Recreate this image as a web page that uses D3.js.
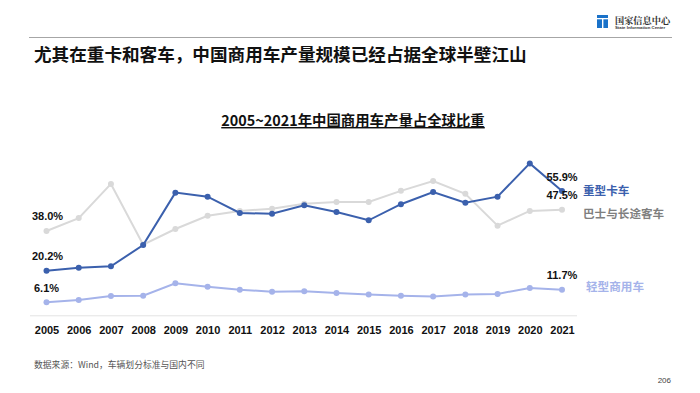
<!DOCTYPE html>
<html><head><meta charset="utf-8">
<script src="https://cdn.jsdelivr.net/npm/d3@7"></script>
<style>
html,body{margin:0;padding:0;background:#fff;}
svg{display:block;font-family:"Liberation Sans","Noto Sans CJK SC",sans-serif;}
</style></head>
<body><svg id="c" width="700" height="393"></svg>
<script>
const years = ["2005","2006","2007","2008","2009","2010","2011","2012","2013","2014","2015","2016","2017","2018","2019","2020","2021"];
const heavyTruck = [20.2,21.5,22.2,31.7,55.2,53.4,46.1,45.7,49.5,46.5,42.8,50.0,55.5,50.7,53.4,68.3,55.9];
const busCoach   = [38.0,43.8,59.1,31.9,38.9,44.8,47.0,48.0,50.2,51.0,51.0,56.0,60.4,54.7,40.4,47.0,47.5];
const lightCV    = [6.1,7.1,8.9,9.0,14.6,13.0,11.7,10.8,11.0,10.2,9.6,9.0,8.7,9.6,9.8,12.5,11.7];
const seriesNames = ["重型卡车","巴士与长途客车","轻型商用车"];
const mainTitle = "尤其在重卡和客车，中国商用车产量规模已经占据全球半壁江山";
const chartTitle = "2005~2021年中国商用车产量占全球比重";
const sourceNote = "数据来源：Wind，车辆划分标准与国内不同";

const svg = d3.select("#c");
const cjk = '"Noto Sans CJK SC","Liberation Sans",sans-serif';

// header
svg.append("line").attr("x1",29).attr("x2",672).attr("y1",37.5).attr("y2",37.5)
  .attr("stroke","#a6a6a6").attr("stroke-width",1.2);
svg.append("text").attr("x",34).attr("y",61).attr("font-family",cjk).attr("font-weight","bold")
  .attr("font-size",17.6).attr("fill","#111").text(mainTitle);
// logo
const lg = svg.append("g");
lg.append("rect").attr("x",597).attr("y",15).attr("width",11).attr("height",13).attr("fill","#1a72c9");
lg.append("rect").attr("x",597).attr("y",18).attr("width",11).attr("height",1.3).attr("fill","#fff");
lg.append("rect").attr("x",602).attr("y",18).attr("width",1.4).attr("height",10).attr("fill","#fff");
lg.append("text").attr("x",615).attr("y",23.5).attr("font-family",'"Noto Serif CJK SC","Noto Sans CJK SC",serif')
  .attr("font-size",9.2).attr("fill","#333").attr("font-weight","bold").text("国家信息中心");
lg.append("text").attr("x",615).attr("y",29).attr("font-size",4.3).attr("fill","#333").attr("font-weight","bold")
  .text("State Information Center");

// chart title
svg.append("text").attr("x",353).attr("y",126).attr("text-anchor","middle")
  .attr("font-family",cjk).attr("font-weight","bold").attr("font-size",14.4).attr("fill","#111")
  .attr("text-decoration","underline").text(chartTitle);

// scales
const x = d3.scalePoint().domain(years).range([46.5,562]);
const y = d3.scaleLinear().domain([0,70]).range([315.8,159.6]);

// axis
const xAxis = d3.axisBottom(x).tickSize(0).tickPadding(10);
const ax = svg.append("g").attr("transform","translate(0,315.8)").call(xAxis);
ax.select(".domain").attr("d","M30,0H577").attr("stroke","#e3e3e3").attr("stroke-width",1);
ax.selectAll("text").attr("font-family","Liberation Sans, sans-serif").attr("font-weight","bold")
  .attr("font-size",11).attr("fill","#111");

const series = [
  {name:seriesNames[1], vals:busCoach, color:"#d9d9d9"},
  {name:seriesNames[2], vals:lightCV, color:"#a5b3ea"},
  {name:seriesNames[0], vals:heavyTruck, color:"#3b60ad"}
];
const line = d3.line().x((d,i)=>x(years[i])).y(d=>y(d));
series.forEach(s=>{
  svg.append("path").datum(s.vals).attr("d",line).attr("fill","none")
    .attr("stroke",s.color).attr("stroke-width",2);
  svg.selectAll(null).data(s.vals).enter().append("circle")
    .attr("cx",(d,i)=>x(years[i])).attr("cy",d=>y(d)).attr("r",3).attr("fill",s.color);
});

// value labels
const valLabels = [
  {v:busCoach[0], x:x(years[0]), dy:-11, dx:1},
  {v:heavyTruck[0], x:x(years[0]), dy:-11, dx:1},
  {v:lightCV[0], x:x(years[0]), dy:-10, dx:0},
  {v:heavyTruck[16], x:x(years[16]), dy:-10, dx:0},
  {v:busCoach[16], x:x(years[16]), dy:-11, dx:0, yv:heavyTruck[16], dy2:8},
  {v:lightCV[16], x:x(years[16]), dy:-11, dx:0}
];
valLabels.forEach(l=>{
  const yy = l.yv!==undefined ? y(l.yv)+l.dy2 : y(l.v)+l.dy;
  svg.append("text").attr("x",l.x+l.dx).attr("y",yy).attr("text-anchor","middle")
    .attr("font-weight","bold").attr("font-size",11).attr("fill","#111")
    .text(l.v.toFixed(1)+"%");
});

// series name labels
const nameLabels = [
  {t:seriesNames[0], v:heavyTruck[16], dx:21, dy:4, c:"#3b60ad"},
  {t:seriesNames[1], v:busCoach[16], dx:21, dy:8, c:"#7f7f7f"},
  {t:seriesNames[2], v:lightCV[16], dx:24, dy:1, c:"#a5b3ea"}
];
nameLabels.forEach(n=>{
  svg.append("text").attr("x",x(years[16])+n.dx).attr("y",y(n.v)+n.dy)
    .attr("font-family",cjk).attr("font-weight","bold").attr("font-size",11.6).attr("fill",n.c).text(n.t);
});

// footer
svg.append("text").attr("x",34).attr("y",368).attr("font-family",cjk).attr("font-size",8.8)
  .attr("fill","#555").text(sourceNote);
svg.append("text").attr("x",671).attr("y",383).attr("text-anchor","end").attr("font-size",8)
  .attr("fill","#444").text("206");
</script></body></html>
